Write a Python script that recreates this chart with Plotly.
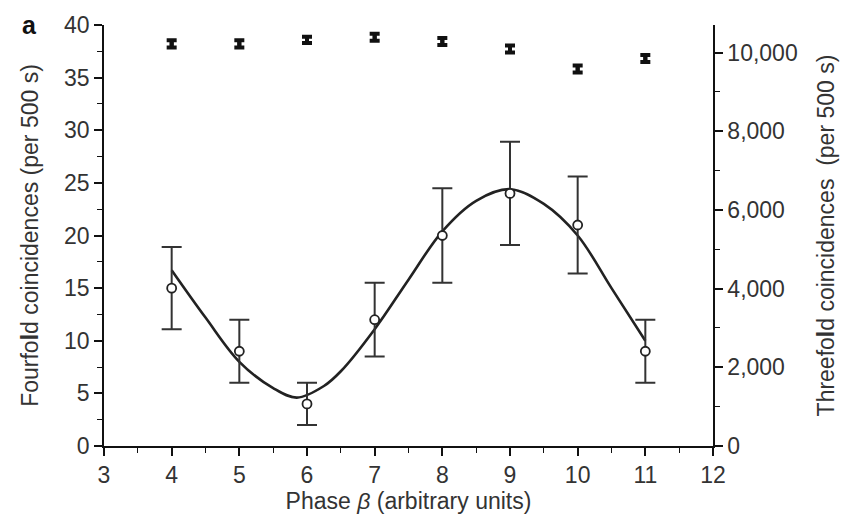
import plotly.graph_objects as go

# Data
phase = [4, 5, 6, 7, 8, 9, 10, 11]
fourfold = [15, 9, 4, 12, 20, 24, 21, 9]
fourfold_err = [3.9, 3.0, 2.0, 3.5, 4.5, 4.9, 4.6, 3.0]
threefold = [10220, 10220, 10320, 10390, 10280, 10090, 9580, 9850]
threefold_err = [90, 90, 80, 90, 90, 90, 90, 90]

fit_x = [4, 4.5, 5, 5.5, 5.85, 6.25, 6.5, 7, 7.5, 8, 8.5, 9, 9.5, 10, 10.5, 11]
fit_y = [16.7, 12.2, 8.0, 5.5, 4.6, 5.7, 7.1, 11.1, 15.8, 20.4, 23.3, 24.4, 23.0, 20.0, 15.0, 10.0]

x_ticks = [3, 4, 5, 6, 7, 8, 9, 10, 11, 12]
left_ticks = [0, 5, 10, 15, 20, 25, 30, 35, 40]
right_ticks = [0, 2000, 4000, 6000, 8000, 10000]

FONT = "Liberation Sans, Arial, sans-serif"
ink = "#222222"
FS = 23

fig = go.Figure()

fig.add_trace(go.Scatter(
    x=fit_x, y=fit_y, mode="lines", line=dict(color=ink, width=2.6, shape="spline", smoothing=1.0),
    hoverinfo="skip", showlegend=False))

fig.add_trace(go.Scatter(
    x=phase, y=fourfold, mode="markers",
    marker=dict(symbol="circle", size=9, color="white", line=dict(width=1.8, color=ink)),
    error_y=dict(type="data", array=fourfold_err, visible=True, color="#333333", thickness=2, width=10),
    showlegend=False))

fig.add_trace(go.Scatter(
    x=phase, y=threefold, mode="markers", yaxis="y2",
    marker=dict(symbol="square", size=4, color="#111111"),
    error_y=dict(type="data", array=threefold_err, visible=True, color="#111111", thickness=4, width=5),
    showlegend=False))

axis_common = dict(
    showgrid=False, zeroline=False,
    showline=True, linecolor="#111111", linewidth=1.5,
    ticks="outside", ticklen=8, tickwidth=1.5, tickcolor="#111111",
    tickfont=dict(size=FS, color="#333333"),
)

fig.update_layout(
    width=854, height=518,
    margin=dict(l=104, r=141, t=20, b=69),
    paper_bgcolor="white", plot_bgcolor="white",
    font=dict(family=FONT, size=FS, color="#333333"),
    xaxis=dict(
        range=[3, 12], tickvals=x_ticks,
        minor=dict(dtick=0.5, ticks="outside", ticklen=5, tickwidth=1.2, tickcolor="#111111"),
        title=dict(text="Phase <i>β</i> (arbitrary units)", standoff=2, font=dict(size=FS)),
        **axis_common,
    ),
    yaxis=dict(
        range=[0, 40], tickvals=left_ticks,
        minor=dict(dtick=2.5, ticks="outside", ticklen=5, tickwidth=1.2, tickcolor="#111111"),
        title=dict(text="Fourfo<b>l</b>d coincidences (per 500 s)", standoff=19, font=dict(size=FS)),
        **axis_common,
    ),
    yaxis2=dict(
        overlaying="y", side="right", range=[0, 10700], tickvals=right_ticks, tickformat=",",
        minor=dict(dtick=1000, ticks="outside", ticklen=5, tickwidth=1.2, tickcolor="#111111"),
        title=dict(text="Threefo<b>l</b>d coincidences  (per 500 s)", standoff=21, font=dict(size=FS)),
        **axis_common,
    ),
    annotations=[dict(text="<b>a</b>", xref="paper", yref="paper", x=-0.122, y=1.0,
                      xanchor="center", yanchor="middle", showarrow=False,
                      font=dict(family=FONT, size=25, color="#111111"))],
)

fig.write_html("out.html")
